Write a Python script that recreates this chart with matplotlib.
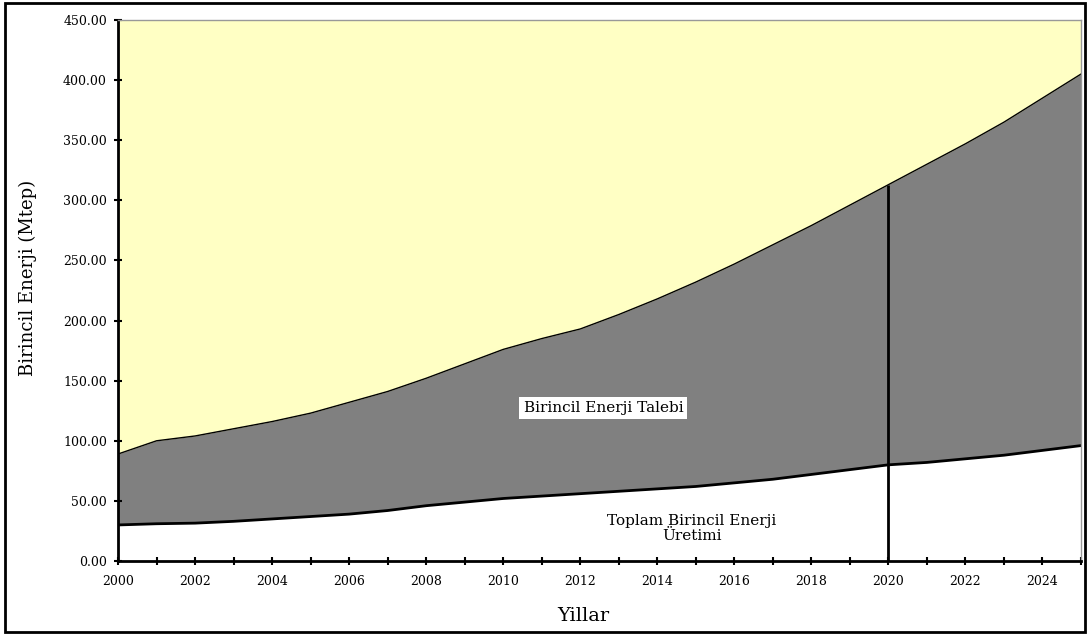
import numpy as np
import matplotlib
matplotlib.use('Agg')
from matplotlib import pyplot as plt
from matplotlib.patches import Rectangle

years = list(range(2000, 2026))
talep = [89, 100, 104, 110, 116, 123, 132, 141, 152, 164, 176, 185, 193,
         205, 218, 232, 247, 263, 279, 296, 313, 330, 347, 365, 385, 405]
uretim = [30, 31, 31.5, 33, 35, 37, 39, 42, 46, 49, 52, 54, 56,
          58, 60, 62, 65, 68, 72, 76, 80, 82, 85, 88, 92, 96]
split_year = 2020

plt.rcParams['font.family'] = ['DejaVu Serif']

fig = plt.figure(figsize=(10.9, 6.36), dpi=100)
ax = fig.add_axes([0.1083, 0.1179, 0.8834, 0.8507])
ax.set_facecolor('#ffffc4')

ax.fill_between(years, uretim, talep, color='#808080', lw=0)
ax.fill_between(years, 0, uretim, color='white', lw=0)
ax.plot(years, talep, c='black', lw=1)
ax.plot(years, uretim, c='black', lw=2)
ax.vlines(split_year, 0, talep[years.index(split_year)], colors='black', lw=2)

ax.set_xlim(2000, 2025)
ax.set_ylim(0, 450)
ax.set_xticks(years)
ax.set_xticklabels([str(y) if y % 2 == 0 and y < 2025 else '' for y in years], fontsize=9)
ax.set_yticks(np.arange(0, 451, 50))
ax.set_yticklabels(['%.2f' % v for v in np.arange(0, 451, 50)], fontsize=9)
ax.tick_params(axis='both', direction='inout', length=6, width=1.5)
ax.tick_params(axis='x', pad=7)
ax.tick_params(axis='y', pad=5)

for s in ['top', 'right']:
    ax.spines[s].set_color('#999999')
    ax.spines[s].set_linewidth(1)
for s in ['left', 'bottom']:
    ax.spines[s].set_linewidth(2)

ax.set_ylabel('Birincil Enerji (Mtep)', fontsize=13)
ax.yaxis.set_label_coords(-0.084, 0.523)
ax.set_xlabel('Yillar', fontsize=14)
ax.xaxis.set_label_coords(0.483, -0.085)

ax.text(2012.6, 127, 'Birincil Enerji Talebi', ha='center', va='center', fontsize=11,
        bbox=dict(facecolor='white', edgecolor='none', pad=3))
ax.text(2014.9, 27, 'Toplam Birincil Enerji\nÜretimi', ha='center', va='center',
        fontsize=11, linespacing=1.1)

fig.patches.append(Rectangle((0.005, 0.006), 0.99, 0.99, transform=fig.transFigure,
                             fill=False, edgecolor='black', lw=2))

fig.savefig('out.png', dpi=100)
